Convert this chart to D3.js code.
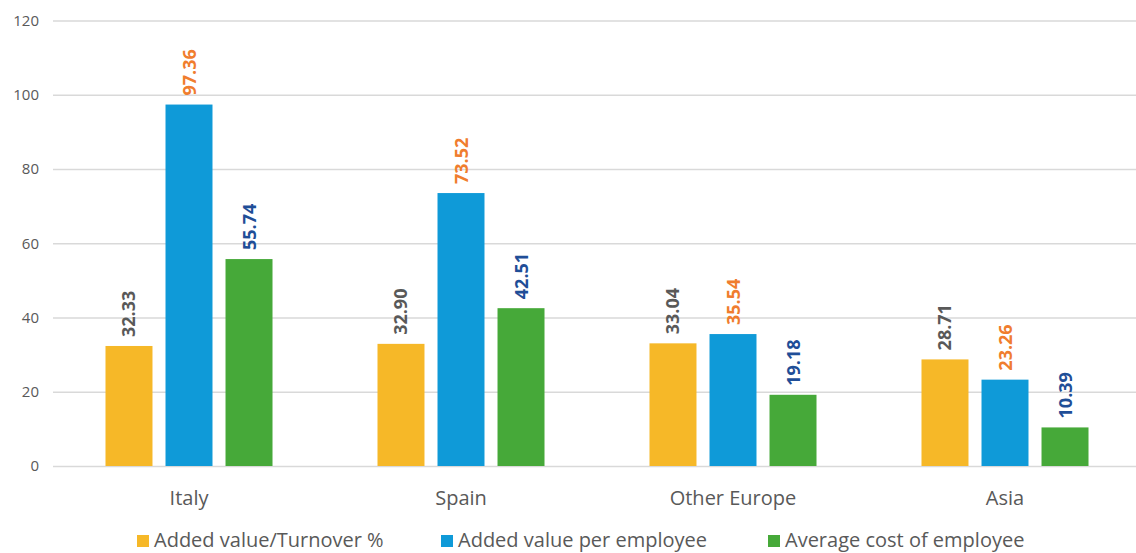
<!DOCTYPE html>
<html>
<head>
<meta charset="utf-8">
<script src="https://cdn.jsdelivr.net/npm/d3@7"></script>
<style>
  body { margin: 0; background: #fff; }
  svg { display: block; font-family: "Open Sans", sans-serif; }
  .grid line { stroke: #d9d9d9; stroke-width: 1.5; }
  .grid path { display: none; }
</style>
</head>
<body>
<svg class="chart"></svg>
<script>
var width = 1136,
    height = 553;

// data
var regions = ["Italy", "Spain", "Other Europe", "Asia"];
var seriesNames = ["Added value/Turnover %", "Added value per employee", "Average cost of employee"];
var turnoverPct = [32.33, 32.90, 33.04, 28.71];
var valuePerEmployee = [97.36, 73.52, 35.54, 23.26];
var costPerEmployee = [55.74, 42.51, 19.18, 10.39];
var yTicks = [0, 20, 40, 60, 80, 100, 120];

var barColors = ["#f6b828", "#0f9ad8", "#46a939"];
var labelColors = ["#595959", "#f07d2e", "#1f4e97"];

var series = [turnoverPct, valuePerEmployee, costPerEmployee];

var svg = d3.select(".chart")
  .attr("width", width)
  .attr("height", height);

var x0 = d3.scaleBand()
  .domain(regions)
  .range([53, 1141])
  .paddingInner(0.386)
  .paddingOuter(0.193);

var x1 = d3.scaleBand()
  .domain([0, 1, 2])
  .range([0, x0.bandwidth()])
  .paddingInner(0.217)
  .paddingOuter(0);

var y = d3.scaleLinear()
  .domain([0, 120])
  .range([466, 20.5]);

// gridlines
svg.append("g")
  .attr("class", "grid")
  .attr("transform", "translate(53,0)")
  .call(d3.axisRight(y).tickValues(yTicks).tickSize(1136).tickFormat(""));

// y tick labels
svg.selectAll(".ytick")
  .data(yTicks)
  .enter().append("text")
  .attr("class", "ytick")
  .attr("x", 39)
  .attr("y", function(d){ return y(d); })
  .attr("dy", "0.35em")
  .attr("text-anchor", "end")
  .style("font-size", "15px")
  .style("fill", "#595959")
  .text(function(d){ return d; });

var groups = svg.selectAll(".region")
  .data(regions)
  .enter().append("g")
  .attr("class", "region")
  .attr("transform", function(d){ return "translate(" + x0(d) + ",0)"; });

groups.selectAll("rect")
  .data(function(d, i){ return series.map(function(s, k){ return {k: k, v: s[i]}; }); })
  .enter().append("rect")
  .attr("x", function(d){ return x1(d.k); })
  .attr("y", function(d){ return y(d.v); })
  .attr("width", x1.bandwidth())
  .attr("height", function(d){ return y(0) - y(d.v); })
  .style("fill", function(d){ return barColors[d.k]; });

groups.selectAll(".vlabel")
  .data(function(d, i){ return series.map(function(s, k){ return {k: k, v: s[i]}; }); })
  .enter().append("text")
  .attr("class", "vlabel")
  .attr("transform", function(d){
    return "translate(" + (x1(d.k) + x1.bandwidth() / 2 + 6.5) + "," + (y(d.v) - 9) + ") rotate(-90)";
  })
  .attr("text-anchor", "start")
  .style("font-size", "18px")
  .style("font-weight", "bold")
  .style("fill", function(d){ return labelColors[d.k]; })
  .text(function(d){ return d.v.toFixed(2); });

// category labels
svg.selectAll(".xlabel")
  .data(regions)
  .enter().append("text")
  .attr("class", "xlabel")
  .attr("x", function(d){ return x0(d) + x0.bandwidth() / 2; })
  .attr("y", 505)
  .attr("text-anchor", "middle")
  .style("font-size", "20px")
  .style("fill", "#595959")
  .text(function(d){ return d; });

// legend
var legendX = [137, 441, 768];
var legend = svg.selectAll(".legend")
  .data(seriesNames)
  .enter().append("g")
  .attr("class", "legend")
  .attr("transform", function(d, i){ return "translate(" + legendX[i] + ",535)"; });

legend.append("rect")
  .attr("width", 12)
  .attr("height", 12)
  .style("fill", function(d, i){ return barColors[i]; });

legend.append("text")
  .attr("x", 17)
  .attr("y", 12)
  .style("font-size", "20px")
  .style("fill", "#595959")
  .text(function(d){ return d; });
</script>
</body>
</html>
